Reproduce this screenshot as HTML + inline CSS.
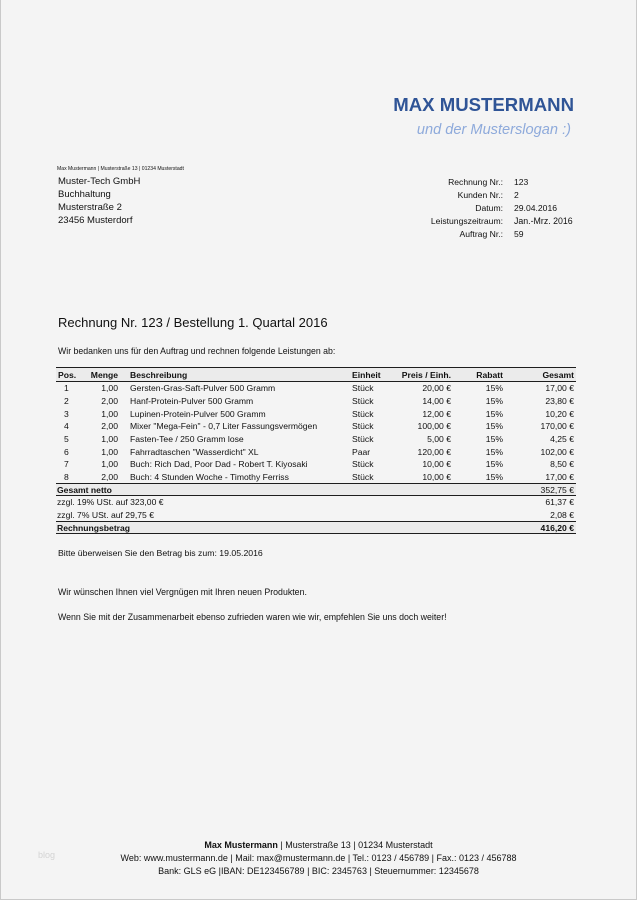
<!DOCTYPE html>
<html>
<head>
<meta charset="utf-8">
<style>
html,body{margin:0;padding:0;}
body{width:637px;height:900px;position:relative;background:#f4f4f4;overflow:hidden;font-family:"Liberation Sans",Arial,sans-serif;color:#111;}
.frame{position:absolute;left:0;top:0;width:635px;height:899px;border-left:1px solid #c9c9c9;border-right:1px solid #c9c9c9;border-bottom:1px solid #c9c9c9;}
.t{position:absolute;white-space:nowrap;line-height:12px;font-size:8.6px;}
.r{text-align:right;}
.b{font-weight:bold;}
.line{position:absolute;left:56px;width:520px;height:1px;background:#1e1e1e;}
.band{position:absolute;left:56px;width:520px;background:#ebebeb;}
.row{position:absolute;left:0;width:637px;height:12px;}
.row .t{top:0;}
</style>
</head>
<body>
<div class="frame"></div>

<!-- Header -->
<div class="t b" style="right:63px;top:93px;font-size:18.6px;line-height:24px;color:#2f5496;">MAX MUSTERMANN</div>
<div class="t" style="right:66px;top:120px;font-size:14.6px;line-height:20px;color:#8eaadb;font-style:italic;">und der Musterslogan :)</div>

<!-- sender line -->
<div class="t" style="left:57px;top:165.5px;font-size:5.1px;line-height:7px;">Max Mustermann | Musterstraße 13 | 01234 Musterstadt</div>

<!-- address -->
<div class="t" style="left:58px;top:175px;font-size:9.5px;line-height:13px;">Muster-Tech GmbH</div>
<div class="t" style="left:58px;top:188px;font-size:9.5px;line-height:13px;">Buchhaltung</div>
<div class="t" style="left:58px;top:201px;font-size:9.5px;line-height:13px;">Musterstraße 2</div>
<div class="t" style="left:58px;top:214px;font-size:9.5px;line-height:13px;">23456 Musterdorf</div>

<!-- right info block -->
<div class="t r" style="right:134px;top:176px;">Rechnung Nr.:</div>
<div class="t" style="left:514px;top:176px;">123</div>
<div class="t r" style="right:134px;top:189px;">Kunden Nr.:</div>
<div class="t" style="left:514px;top:189px;">2</div>
<div class="t r" style="right:134px;top:202px;">Datum:</div>
<div class="t" style="left:514px;top:202px;">29.04.2016</div>
<div class="t r" style="right:134px;top:215px;">Leistungszeitraum:</div>
<div class="t" style="left:514px;top:215px;font-size:8.8px;">Jan.-Mrz. 2016</div>
<div class="t r" style="right:134px;top:228px;">Auftrag Nr.:</div>
<div class="t" style="left:514px;top:228px;">59</div>

<!-- title -->
<div class="t" style="left:58px;top:315px;font-size:13px;line-height:16px;">Rechnung Nr. 123 / Bestellung 1. Quartal 2016</div>
<div class="t" style="left:58px;top:345px;font-size:8.75px;">Wir bedanken uns für den Auftrag und rechnen folgende Leistungen ab:</div>

<!-- table bands & lines -->
<div class="band" style="top:368px;height:13px;"></div>
<div class="band" style="top:484px;height:11px;"></div>
<div class="band" style="top:522px;height:11px;"></div>
<div class="line" style="top:367px;"></div>
<div class="line" style="top:381px;"></div>
<div class="line" style="top:483px;"></div>
<div class="line" style="top:495px;"></div>
<div class="line" style="top:521px;"></div>
<div class="line" style="top:533px;"></div>

<!-- header row -->
<div class="row b" style="top:368.5px;">
  <div class="t b" style="left:58px;">Pos.</div>
  <div class="t b r" style="right:519px;">Menge</div>
  <div class="t b" style="left:130px;">Beschreibung</div>
  <div class="t b" style="left:352px;">Einheit</div>
  <div class="t b r" style="right:186px;">Preis / Einh.</div>
  <div class="t b r" style="right:134px;">Rabatt</div>
  <div class="t b r" style="right:63px;">Gesamt</div>
</div>

<div class="row" style="top:382.3px;">
  <div class="t" style="left:64px;">1</div><div class="t r" style="right:519px;">1,00</div>
  <div class="t" style="left:130px;">Gersten-Gras-Saft-Pulver 500 Gramm</div><div class="t" style="left:352px;">Stück</div>
  <div class="t r" style="right:186px;">20,00 €</div><div class="t r" style="right:134px;">15%</div><div class="t r" style="right:63px;">17,00 €</div>
</div>
<div class="row" style="top:394.9px;">
  <div class="t" style="left:64px;">2</div><div class="t r" style="right:519px;">2,00</div>
  <div class="t" style="left:130px;">Hanf-Protein-Pulver 500 Gramm</div><div class="t" style="left:352px;">Stück</div>
  <div class="t r" style="right:186px;">14,00 €</div><div class="t r" style="right:134px;">15%</div><div class="t r" style="right:63px;">23,80 €</div>
</div>
<div class="row" style="top:407.6px;">
  <div class="t" style="left:64px;">3</div><div class="t r" style="right:519px;">1,00</div>
  <div class="t" style="left:130px;">Lupinen-Protein-Pulver 500 Gramm</div><div class="t" style="left:352px;">Stück</div>
  <div class="t r" style="right:186px;">12,00 €</div><div class="t r" style="right:134px;">15%</div><div class="t r" style="right:63px;">10,20 €</div>
</div>
<div class="row" style="top:420.3px;">
  <div class="t" style="left:64px;">4</div><div class="t r" style="right:519px;">2,00</div>
  <div class="t" style="left:130px;">Mixer "Mega-Fein" - 0,7 Liter Fassungsvermögen</div><div class="t" style="left:352px;">Stück</div>
  <div class="t r" style="right:186px;">100,00 €</div><div class="t r" style="right:134px;">15%</div><div class="t r" style="right:63px;">170,00 €</div>
</div>
<div class="row" style="top:432.9px;">
  <div class="t" style="left:64px;">5</div><div class="t r" style="right:519px;">1,00</div>
  <div class="t" style="left:130px;">Fasten-Tee / 250 Gramm lose</div><div class="t" style="left:352px;">Stück</div>
  <div class="t r" style="right:186px;">5,00 €</div><div class="t r" style="right:134px;">15%</div><div class="t r" style="right:63px;">4,25 €</div>
</div>
<div class="row" style="top:445.6px;">
  <div class="t" style="left:64px;">6</div><div class="t r" style="right:519px;">1,00</div>
  <div class="t" style="left:130px;">Fahrradtaschen "Wasserdicht" XL</div><div class="t" style="left:352px;">Paar</div>
  <div class="t r" style="right:186px;">120,00 €</div><div class="t r" style="right:134px;">15%</div><div class="t r" style="right:63px;">102,00 €</div>
</div>
<div class="row" style="top:458.2px;">
  <div class="t" style="left:64px;">7</div><div class="t r" style="right:519px;">1,00</div>
  <div class="t" style="left:130px;">Buch: Rich Dad, Poor Dad - Robert T. Kiyosaki</div><div class="t" style="left:352px;">Stück</div>
  <div class="t r" style="right:186px;">10,00 €</div><div class="t r" style="right:134px;">15%</div><div class="t r" style="right:63px;">8,50 €</div>
</div>
<div class="row" style="top:470.6px;">
  <div class="t" style="left:64px;">8</div><div class="t r" style="right:519px;">2,00</div>
  <div class="t" style="left:130px;">Buch: 4 Stunden Woche - Timothy Ferriss</div><div class="t" style="left:352px;">Stück</div>
  <div class="t r" style="right:186px;">10,00 €</div><div class="t r" style="right:134px;">15%</div><div class="t r" style="right:63px;">17,00 €</div>
</div>

<!-- totals -->
<div class="t b" style="left:57px;top:483.5px;">Gesamt netto</div>
<div class="t r" style="right:63px;top:483.5px;">352,75 €</div>
<div class="t" style="left:57px;top:496px;">zzgl. 19% USt. auf 323,00 €</div>
<div class="t r" style="right:63px;top:496px;">61,37 €</div>
<div class="t" style="left:57px;top:508.5px;">zzgl. 7% USt. auf 29,75 €</div>
<div class="t r" style="right:63px;top:508.5px;">2,08 €</div>
<div class="t b" style="left:57px;top:521.5px;">Rechnungsbetrag</div>
<div class="t b r" style="right:63px;top:521.5px;">416,20 €</div>

<!-- body text -->
<div class="t" style="left:58px;top:547px;font-size:8.7px;">Bitte überweisen Sie den Betrag bis zum: 19.05.2016</div>
<div class="t" style="left:58px;top:586px;font-size:8.8px;">Wir wünschen Ihnen viel Vergnügen mit Ihren neuen Produkten.</div>
<div class="t" style="left:58px;top:611px;font-size:8.8px;">Wenn Sie mit der Zusammenarbeit ebenso zufrieden waren wie wir, empfehlen Sie uns doch weiter!</div>

<!-- footer -->
<div class="t" style="left:38px;top:849px;font-size:9px;color:#d4d4d4;">blog</div>
<div class="t" style="left:0;width:637px;text-align:center;top:839px;font-size:9px;"><b>Max Mustermann</b> | Musterstraße 13 | 01234 Musterstadt</div>
<div class="t" style="left:0;width:637px;text-align:center;top:852px;font-size:9px;">Web: www.mustermann.de | Mail: max@mustermann.de | Tel.: 0123 / 456789 | Fax.: 0123 / 456788</div>
<div class="t" style="left:0;width:637px;text-align:center;top:865px;font-size:9px;">Bank: GLS eG |IBAN: DE123456789 | BIC: 2345763 | Steuernummer: 12345678</div>
</body>
</html>
